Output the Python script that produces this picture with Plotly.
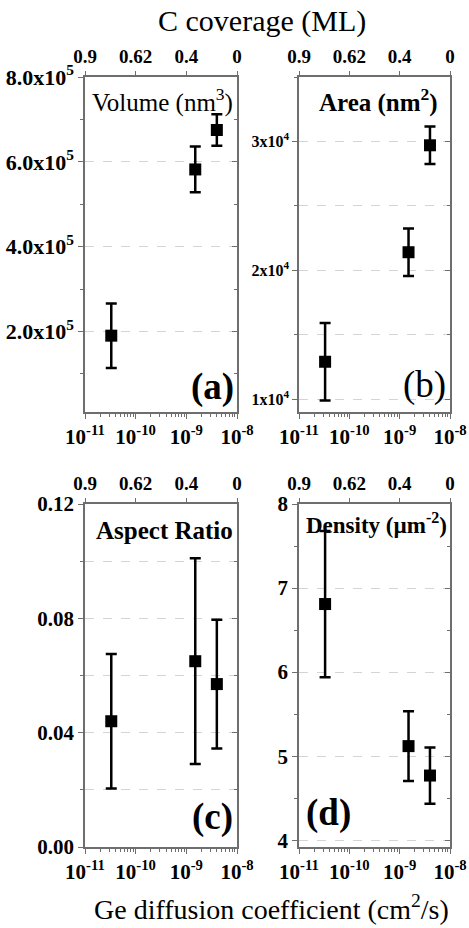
import plotly.graph_objects as go

# Ge diffusion coefficient (cm^2/s) for the three samples
diffusion = [3.3e-11, 1.5e-9, 4.0e-9]

volume = [1.90e5, 5.82e5, 6.75e5]
volume_err = [0.76e5, 0.54e5, 0.37e5]

area = [1.29e4, 2.14e4, 2.97e4]
area_err = [0.30e4, 0.185e4, 0.145e4]

aspect = [0.044, 0.065, 0.057]
aspect_err = [0.0235, 0.036, 0.0225]

density = [6.81, 5.12, 4.77]
density_err = [0.87, 0.415, 0.335]

decade_vals = [1e-11, 1e-10, 1e-9, 1e-8]
decade_text = ["10<sup>-11</sup>", "10<sup>-10</sup>", "10<sup>-9</sup>", "10<sup>-8</sup>"]
coverage_text = ["0.9", "0.62", "0.4", "0"]

vol_ticks = [2e5, 4e5, 6e5, 8e5]
vol_text = ["2.0x10<sup>5</sup>", "4.0x10<sup>5</sup>", "6.0x10<sup>5</sup>", "8.0x10<sup>5</sup>"]
area_ticks = [1e4, 2e4, 3e4]
area_text = ["1x10<sup>4</sup>", "2x10<sup>4</sup>", "3x10<sup>4</sup>"]
ar_ticks = [0.0, 0.04, 0.08, 0.12]
ar_text = ["0.00", "0.04", "0.08", "0.12"]
dens_ticks = [4, 5, 6, 7, 8]
dens_text = ["4", "5", "6", "7", "8"]

FONT = "Liberation Serif, Times New Roman, Times, serif"
FRAME = "#6e6e6e"
GRID = "#d4d4d4"

W, H = 469, 928
def px_x(a, b):
    return [a / W, b / W]
def px_y(top, bottom):
    return [1 - bottom / H, 1 - top / H]

panels = [
    dict(xd=px_x(85, 237), yd=px_y(77, 412), y=volume, e=volume_err,
         yr=[1e4, 8e5], tv=vol_ticks, tt=vol_text, mdt=1e5, mgrid=False, yfs=22),
    dict(xd=px_x(299, 450), yd=px_y(77, 412), y=area, e=area_err,
         yr=[0.9e4, 3.5e4], tv=area_ticks, tt=area_text, mdt=0.5e4, mgrid=True, yfs=16),
    dict(xd=px_x(85, 237), yd=px_y(504, 847), y=aspect, e=aspect_err,
         yr=[0.0, 0.12], tv=ar_ticks, tt=ar_text, mdt=0.02, mgrid=True, yfs=21),
    dict(xd=px_x(299, 450), yd=px_y(504, 847), y=density, e=density_err,
         yr=[3.92, 8.0], tv=dens_ticks, tt=dens_text, mdt=0.5, mgrid=False, yfs=21),
]

fig = go.Figure()

def tfont(size):
    return dict(family=FONT, size=size, color="black", weight="bold")

for i, p in enumerate(panels):
    n = i + 1
    no = i + 5
    xs = "" if n == 1 else str(n)
    ys = xs
    fig.add_trace(go.Scatter(
        x=diffusion, y=p["y"], xaxis="x" + xs, yaxis="y" + ys,
        mode="markers",
        marker=dict(symbol="square", size=12, color="black"),
        error_y=dict(type="data", array=p["e"], color="black", thickness=2.5, width=5.5),
        showlegend=False, hoverinfo="skip",
    ))
    # invisible trace so the top (coverage) and right axes are drawn
    fig.add_trace(go.Scatter(
        x=[diffusion[0]], y=[p["y"][0]], xaxis="x%d" % no, yaxis="y%d" % no,
        mode="markers", marker=dict(opacity=0), showlegend=False, hoverinfo="skip",
    ))

    fig.layout["xaxis" + xs] = dict(
        type="log", range=[-11, -8], domain=p["xd"], anchor="y" + ys, automargin=False,
        tickmode="array", tickvals=decade_vals, ticktext=decade_text,
        ticks="outside", ticklen=5, tickwidth=1.2, tickcolor=FRAME,
        minor=dict(dtick="D1", ticks="outside", ticklen=3, tickcolor=FRAME),
        showline=True, linecolor=FRAME, linewidth=1.5, mirror=True,
        showgrid=False, zeroline=False, tickfont=tfont(21),
    )
    fig.layout["yaxis" + ys] = dict(
        range=p["yr"], domain=p["yd"], anchor="x" + xs, automargin=False,
        tickmode="array", tickvals=p["tv"], ticktext=p["tt"],
        ticks="outside", ticklen=5, tickwidth=1.2, tickcolor=FRAME,
        minor=dict(dtick=p["mdt"], tick0=0, ticks="outside", ticklen=3, tickcolor=FRAME,
                   showgrid=p["mgrid"], gridcolor=GRID, griddash="dash", gridwidth=1),
        showline=True, linecolor=FRAME, linewidth=1.5, mirror=True,
        showgrid=True, gridcolor=GRID, griddash="dash", gridwidth=1,
        zeroline=False, tickfont=tfont(p["yfs"]),
    )
    fig.layout["xaxis%d" % no] = dict(
        type="log", range=[-11, -8], overlaying="x" + xs, anchor="y" + ys, side="top",
        automargin=False,
        tickmode="array", tickvals=decade_vals, ticktext=coverage_text,
        ticks="outside", ticklen=5, tickwidth=1.2, tickcolor=FRAME,
        ticklabelstandoff=0,
        showline=False, showgrid=False, zeroline=False, tickfont=tfont(19),
    )
    fig.layout["yaxis%d" % no] = dict(
        range=p["yr"], overlaying="y" + ys, anchor="x" + xs, side="right",
        automargin=False,
        tickmode="array", tickvals=p["tv"], showticklabels=False,
        ticks="inside", ticklen=5, tickwidth=1.2, tickcolor=FRAME,
        minor=dict(dtick=p["mdt"], tick0=0, ticks="inside", ticklen=3, tickcolor=FRAME),
        showline=False, showgrid=False, zeroline=False,
    )

def label(text, x, y, size, bold, xanchor="center"):
    fig.add_annotation(
        text=text, x=x / W, y=1 - y / H, xref="paper", yref="paper",
        xanchor=xanchor, yanchor="middle", showarrow=False, borderpad=0,
        font=dict(family=FONT, size=size, color="black", weight="bold" if bold else "normal"),
    )

# figure-level axis titles
label("C coverage (ML)", 262, 21, 30, False)
label("Ge diffusion coefficient (cm<sup>2</sup>/s)", 271, 907, 28, False)

# quantity names inside each panel
label("Volume (nm<sup>3</sup>)", 162, 101, 25, False)
label("Area (nm<sup>2</sup>)", 378, 101, 25, True)
label("Aspect Ratio", 164, 530, 25, True)
label("Density (\u00b5m<sup>-2</sup>)", 376, 523, 23, True)

# panel letters
label("(a)", 212, 387, 37, True)
label("(b)", 424, 385, 37, False)
label("(c)", 212, 817, 37, True)
label("(d)", 328, 813, 37, True)

fig.update_layout(
    width=W, height=H,
    margin=dict(l=0, r=0, t=0, b=0),
    paper_bgcolor="white", plot_bgcolor="white",
    font=dict(family=FONT, color="black"),
)

fig.write_html("out.html")
